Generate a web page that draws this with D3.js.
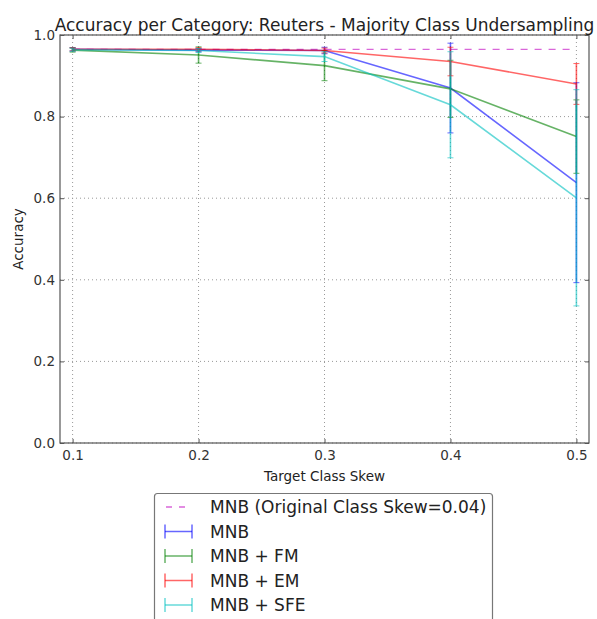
<!DOCTYPE html>
<html>
<head>
<meta charset="utf-8">
<script src="https://cdn.jsdelivr.net/npm/d3@7"></script>
<style>
  html, body { margin: 0; padding: 0; background: #fff; }
  svg { display: block; font-family: "DejaVu Sans", sans-serif; }
</style>
</head>
<body>
<svg id="chart" width="597" height="619"></svg>
<script>
// Target class skew levels on the x axis
const skews = [0.1, 0.2, 0.3, 0.4, 0.5];

// Mean accuracy per method
const mnb    = [0.965, 0.963, 0.962, 0.870, 0.638];
const mnbFM  = [0.963, 0.951, 0.925, 0.868, 0.751];
const mnbEM  = [0.965, 0.965, 0.962, 0.935, 0.880];
const mnbSFE = [0.964, 0.962, 0.947, 0.829, 0.601];

// Standard deviation per method
const mnbErr    = [0.004, 0.004, 0.008, 0.110, 0.245];
const mnbFMErr  = [0.005, 0.020, 0.037, 0.070, 0.090];
const mnbEMErr  = [0.004, 0.004, 0.006, 0.035, 0.050];
const mnbSFEErr = [0.004, 0.005, 0.012, 0.130, 0.265];

// Baseline: MNB trained on the original class skew
const baseline = 0.965;

const yTicks = [0.0, 0.2, 0.4, 0.6, 0.8, 1.0];
const xTicks = [0.1, 0.2, 0.3, 0.4, 0.5];

const series = [
  { name: "MNB",        values: mnb,    errors: mnbErr,    color: "#0000ff" },
  { name: "MNB + FM",   values: mnbFM,  errors: mnbFMErr,  color: "#008000" },
  { name: "MNB + EM",   values: mnbEM,  errors: mnbEMErr,  color: "#ff0000" },
  { name: "MNB + SFE",  values: mnbSFE, errors: mnbSFEErr, color: "#00bfbf" }
];

const svg = d3.select("#chart");
const m = { left: 60, right: 8, top: 35, bottom: 176 };
const W = 597, H = 619;
const x = d3.scaleLinear().domain([0.09, 0.51]).range([m.left, W - m.right]);
const y = d3.scaleLinear().domain([0, 1]).range([H - m.bottom, m.top]);

// Dotted grid
const grid = svg.append("g").attr("stroke", "#999").attr("stroke-width", 1)
  .attr("stroke-dasharray", "1,3").attr("fill", "none");
grid.selectAll(".gx").data(xTicks).join("line")
  .attr("x1", d => x(d)).attr("x2", d => x(d))
  .attr("y1", y(0)).attr("y2", y(1));
grid.selectAll(".gy").data(yTicks).join("line")
  .attr("x1", x.range()[0]).attr("x2", x.range()[1])
  .attr("y1", d => y(d)).attr("y2", d => y(d));

// Baseline dashed line
svg.append("line")
  .attr("x1", x(skews[0])).attr("x2", x(skews[skews.length - 1]))
  .attr("y1", y(baseline)).attr("y2", y(baseline))
  .attr("stroke", "#bf00bf").attr("stroke-opacity", 0.6)
  .attr("stroke-width", 1.3).attr("stroke-dasharray", "7,7");

const line = d3.line().x((d, i) => x(skews[i])).y(d => y(d));

series.forEach(s => {
  const g = svg.append("g").attr("stroke", s.color).attr("stroke-opacity", 0.6).attr("fill", "none");
  g.append("path").attr("d", line(s.values)).attr("stroke-width", 1.6);
  s.values.forEach((v, i) => {
    const cx = x(skews[i]);
    const y0 = y(v - s.errors[i]), y1 = y(v + s.errors[i]);
    g.append("line").attr("x1", cx).attr("x2", cx).attr("y1", y0).attr("y2", y1).attr("stroke-width", 1.6);
    [y0, y1].forEach(yy => g.append("line")
      .attr("x1", cx - 3).attr("x2", cx + 3).attr("y1", yy).attr("y2", yy).attr("stroke-width", 1));
  });
});

// Axes frame with inward ticks on all sides
const axG = svg.append("g");
axG.append("rect")
  .attr("x", x.range()[0]).attr("y", y(1))
  .attr("width", x.range()[1] - x.range()[0]).attr("height", y(0) - y(1))
  .attr("fill", "none").attr("stroke", "#555").attr("stroke-width", 1.2);

const xAxis = d3.axisBottom(x).tickValues(xTicks).tickFormat(d3.format(".1f")).tickSizeInner(-4).tickSizeOuter(0).tickPadding(7);
const yAxis = d3.axisLeft(y).tickValues(yTicks).tickFormat(d3.format(".1f")).tickSizeInner(-4).tickSizeOuter(0).tickPadding(5);

axG.append("g").attr("transform", `translate(0,${y(0)})`).call(xAxis);
axG.append("g").attr("transform", `translate(${x.range()[0]},0)`).call(yAxis);
axG.append("g").attr("transform", `translate(0,${y(1)})`)
  .call(d3.axisTop(x).tickValues(xTicks).tickSizeInner(-4).tickSizeOuter(0).tickFormat(""));
axG.append("g").attr("transform", `translate(${x.range()[1]},0)`)
  .call(d3.axisRight(y).tickValues(yTicks).tickSizeInner(-4).tickSizeOuter(0).tickFormat(""));
axG.selectAll(".domain").remove();
axG.selectAll(".tick line").attr("stroke", "#555");
axG.selectAll(".tick text").attr("font-size", 13.5).attr("fill", "#333")
  .attr("font-family", "DejaVu Sans, sans-serif");

// Titles
svg.append("text").attr("x", (x.range()[0] + x.range()[1]) / 2).attr("y", 31)
  .attr("text-anchor", "middle").attr("font-size", 17).attr("fill", "#222")
  .text("Accuracy per Category: Reuters - Majority Class Undersampling");
svg.append("text").attr("x", (x.range()[0] + x.range()[1]) / 2).attr("y", 481)
  .attr("text-anchor", "middle").attr("font-size", 13.5).attr("fill", "#222")
  .text("Target Class Skew");
svg.append("text").attr("transform", `translate(23,${(y(0) + y(1)) / 2}) rotate(-90)`)
  .attr("text-anchor", "middle").attr("font-size", 13.5).attr("fill", "#222")
  .text("Accuracy");

// Legend
const lg = svg.append("g");
lg.append("rect").attr("x", 154.5).attr("y", 493.5).attr("width", 338).attr("height", 140)
  .attr("rx", 3).attr("fill", "#fff").attr("stroke", "#777").attr("stroke-width", 1.2);
const rowY = i => 507 + i * 24.5;
const entries = [{ name: "MNB (Original Class Skew=0.04)", color: "#bf00bf", dashed: true }]
  .concat(series);
entries.forEach((e, i) => {
  const yy = rowY(i);
  const g = lg.append("g").attr("stroke", e.color).attr("stroke-opacity", 0.6);
  if (e.dashed) {
    g.append("line").attr("x1", 165).attr("x2", 191).attr("y1", yy).attr("y2", yy)
      .attr("stroke-width", 1.3).attr("stroke-dasharray", "6,7").attr("stroke-dashoffset", -1);
  } else {
    g.append("line").attr("x1", 165).attr("x2", 192).attr("y1", yy).attr("y2", yy).attr("stroke-width", 1.5);
    [165, 192].forEach(xx => g.append("line").attr("x1", xx).attr("x2", xx)
      .attr("y1", yy - 7).attr("y2", yy + 7).attr("stroke-width", 1.5));
  }
  lg.append("text").attr("x", 210).attr("y", yy).attr("dy", "0.36em")
    .attr("font-size", 17).attr("fill", "#222").text(e.name);
});
</script>
</body>
</html>
